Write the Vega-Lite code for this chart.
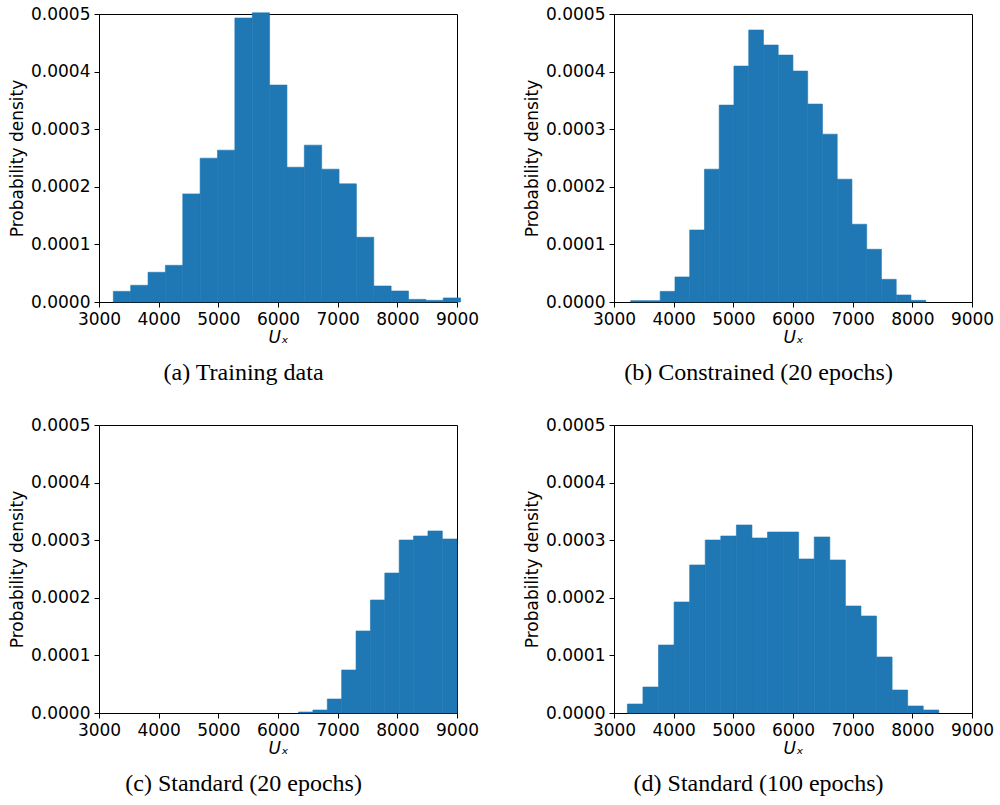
{
  "$schema": "https://vega.github.io/schema/vega-lite/v6.json",
  "padding": {"left": 8, "top": 4, "right": 5, "bottom": 5},
  "background": "white",
  "config": {
    "view": {"stroke": "black", "strokeWidth": 1},
    "axis": {
      "grid": false, "domainColor": "black", "tickColor": "black", "labelColor": "black",
      "labelFont": "DejaVu Sans", "labelFontSize": 17, "tickSize": 5, "labelPadding": 4,
      "titleFont": "DejaVu Sans", "titleFontSize": 17, "titleFontWeight": "normal", "titleColor": "black",
      "labelFlush": false, "labelOverlap": false
    },
    "bar": {"color": "#1f77b4", "stroke": "#1f77b4", "strokeWidth": 0.6, "clip": true},
    "title": {"font": "Liberation Serif", "fontSize": 24, "fontWeight": "normal", "color": "black", "orient": "bottom", "frame": "bounds", "anchor": "middle", "offset": 16}
  },
  "spacing": 29,
  "vconcat": [
    {
      "spacing": 43,
      "hconcat": [
        {
          "title": "(a) Training data",
          "width": 358, "height": 288,
          "data": {"values": [
            {"x0": 3240, "x1": 3531, "density": 0.0000185},
            {"x0": 3531, "x1": 3822, "density": 0.000029},
            {"x0": 3822, "x1": 4113, "density": 0.0000516},
            {"x0": 4113, "x1": 4404, "density": 0.0000637},
            {"x0": 4404, "x1": 4695, "density": 0.0001877},
            {"x0": 4695, "x1": 4986, "density": 0.0002497},
            {"x0": 4986, "x1": 5277, "density": 0.0002636},
            {"x0": 5277, "x1": 5568, "density": 0.000493},
            {"x0": 5568, "x1": 5859, "density": 0.000502},
            {"x0": 5859, "x1": 6150, "density": 0.0003766},
            {"x0": 6150, "x1": 6441, "density": 0.000234},
            {"x0": 6441, "x1": 6732, "density": 0.0002723},
            {"x0": 6732, "x1": 7023, "density": 0.0002306},
            {"x0": 7023, "x1": 7314, "density": 0.0002051},
            {"x0": 7314, "x1": 7605, "density": 0.0001124},
            {"x0": 7605, "x1": 7896, "density": 0.0000278},
            {"x0": 7896, "x1": 8187, "density": 0.0000191},
            {"x0": 8187, "x1": 8478, "density": 0.0000046},
            {"x0": 8478, "x1": 8769, "density": 0.0000029},
            {"x0": 8769, "x1": 9060, "density": 0.000007}
          ]},
          "mark": {"type": "bar"},
          "encoding": {
            "x": {"field": "x0", "type": "quantitative", "title": "Uₓ",
                  "scale": {"domain": [3000, 9000], "nice": false, "zero": false},
                  "axis": {"values": [3000, 4000, 5000, 6000, 7000, 8000, 9000], "format": "d", "titleFontStyle": "italic", "titlePadding": 2}},
            "x2": {"field": "x1"},
            "y": {"field": "density", "type": "quantitative", "title": "Probability density",
                  "scale": {"domain": [0, 0.0005], "nice": false},
                  "axis": {"values": [0, 0.0001, 0.0002, 0.0003, 0.0004, 0.0005], "format": ".4f", "titlePadding": 4}},
            "y2": {"datum": 0}
          }
        },
        {
          "title": "(b) Constrained (20 epochs)",
          "width": 358, "height": 288,
          "data": {"values": [
            {"x0": 3280, "x1": 3527, "density": 0.0000023},
            {"x0": 3527, "x1": 3774, "density": 0.0000023},
            {"x0": 3774, "x1": 4022, "density": 0.0000185},
            {"x0": 4022, "x1": 4269, "density": 0.0000435},
            {"x0": 4269, "x1": 4516, "density": 0.000125},
            {"x0": 4516, "x1": 4763, "density": 0.0002306},
            {"x0": 4763, "x1": 5010, "density": 0.0003418},
            {"x0": 5010, "x1": 5258, "density": 0.0004096},
            {"x0": 5258, "x1": 5505, "density": 0.0004722},
            {"x0": 5505, "x1": 5752, "density": 0.0004461},
            {"x0": 5752, "x1": 5999, "density": 0.0004287},
            {"x0": 5999, "x1": 6246, "density": 0.0004009},
            {"x0": 6246, "x1": 6494, "density": 0.0003436},
            {"x0": 6494, "x1": 6741, "density": 0.0002914},
            {"x0": 6741, "x1": 6988, "density": 0.0002132},
            {"x0": 6988, "x1": 7235, "density": 0.000135},
            {"x0": 7235, "x1": 7482, "density": 0.0000915},
            {"x0": 7482, "x1": 7730, "density": 0.0000394},
            {"x0": 7730, "x1": 7977, "density": 0.0000122},
            {"x0": 7977, "x1": 8224, "density": 0.0000029}
          ]},
          "mark": {"type": "bar"},
          "encoding": {
            "x": {"field": "x0", "type": "quantitative", "title": "Uₓ",
                  "scale": {"domain": [3000, 9000], "nice": false, "zero": false},
                  "axis": {"values": [3000, 4000, 5000, 6000, 7000, 8000, 9000], "format": "d", "titleFontStyle": "italic", "titlePadding": 2}},
            "x2": {"field": "x1"},
            "y": {"field": "density", "type": "quantitative", "title": "Probability density",
                  "scale": {"domain": [0, 0.0005], "nice": false},
                  "axis": {"values": [0, 0.0001, 0.0002, 0.0003, 0.0004, 0.0005], "format": ".4f", "titlePadding": 4}},
            "y2": {"datum": 0}
          }
        }
      ]
    },
    {
      "spacing": 43,
      "hconcat": [
        {
          "title": "(c) Standard (20 epochs)",
          "width": 358, "height": 288,
          "data": {"values": [
            {"x0": 6344, "x1": 6585, "density": 0.0000017},
            {"x0": 6585, "x1": 6826, "density": 0.0000052},
            {"x0": 6826, "x1": 7067, "density": 0.0000243},
            {"x0": 7067, "x1": 7308, "density": 0.0000747},
            {"x0": 7308, "x1": 7549, "density": 0.0001424},
            {"x0": 7549, "x1": 7790, "density": 0.0001962},
            {"x0": 7790, "x1": 8031, "density": 0.000243},
            {"x0": 8031, "x1": 8272, "density": 0.0003003},
            {"x0": 8272, "x1": 8513, "density": 0.0003073},
            {"x0": 8513, "x1": 8754, "density": 0.000316},
            {"x0": 8754, "x1": 9000, "density": 0.0003021}
          ]},
          "mark": {"type": "bar"},
          "encoding": {
            "x": {"field": "x0", "type": "quantitative", "title": "Uₓ",
                  "scale": {"domain": [3000, 9000], "nice": false, "zero": false},
                  "axis": {"values": [3000, 4000, 5000, 6000, 7000, 8000, 9000], "format": "d", "titleFontStyle": "italic", "titlePadding": 2}},
            "x2": {"field": "x1"},
            "y": {"field": "density", "type": "quantitative", "title": "Probability density",
                  "scale": {"domain": [0, 0.0005], "nice": false},
                  "axis": {"values": [0, 0.0001, 0.0002, 0.0003, 0.0004, 0.0005], "format": ".4f", "titlePadding": 4}},
            "y2": {"datum": 0}
          }
        },
        {
          "title": "(d) Standard (100 epochs)",
          "width": 358, "height": 288,
          "data": {"values": [
            {"x0": 3224, "x1": 3485, "density": 0.0000156},
            {"x0": 3485, "x1": 3746, "density": 0.0000451},
            {"x0": 3746, "x1": 4007, "density": 0.000118},
            {"x0": 4007, "x1": 4268, "density": 0.0001927},
            {"x0": 4268, "x1": 4529, "density": 0.000257},
            {"x0": 4529, "x1": 4790, "density": 0.0003003},
            {"x0": 4790, "x1": 5051, "density": 0.0003073},
            {"x0": 5051, "x1": 5312, "density": 0.0003264},
            {"x0": 5312, "x1": 5573, "density": 0.0003038},
            {"x0": 5573, "x1": 5834, "density": 0.0003142},
            {"x0": 5834, "x1": 6095, "density": 0.0003142},
            {"x0": 6095, "x1": 6356, "density": 0.0002674},
            {"x0": 6356, "x1": 6617, "density": 0.0003056},
            {"x0": 6617, "x1": 6878, "density": 0.0002656},
            {"x0": 6878, "x1": 7139, "density": 0.0001858},
            {"x0": 7139, "x1": 7400, "density": 0.0001684},
            {"x0": 7400, "x1": 7661, "density": 0.0000972},
            {"x0": 7661, "x1": 7922, "density": 0.0000399},
            {"x0": 7922, "x1": 8183, "density": 0.0000122},
            {"x0": 8183, "x1": 8444, "density": 0.0000052}
          ]},
          "mark": {"type": "bar"},
          "encoding": {
            "x": {"field": "x0", "type": "quantitative", "title": "Uₓ",
                  "scale": {"domain": [3000, 9000], "nice": false, "zero": false},
                  "axis": {"values": [3000, 4000, 5000, 6000, 7000, 8000, 9000], "format": "d", "titleFontStyle": "italic", "titlePadding": 2}},
            "x2": {"field": "x1"},
            "y": {"field": "density", "type": "quantitative", "title": "Probability density",
                  "scale": {"domain": [0, 0.0005], "nice": false},
                  "axis": {"values": [0, 0.0001, 0.0002, 0.0003, 0.0004, 0.0005], "format": ".4f", "titlePadding": 4}},
            "y2": {"datum": 0}
          }
        }
      ]
    }
  ]
}
